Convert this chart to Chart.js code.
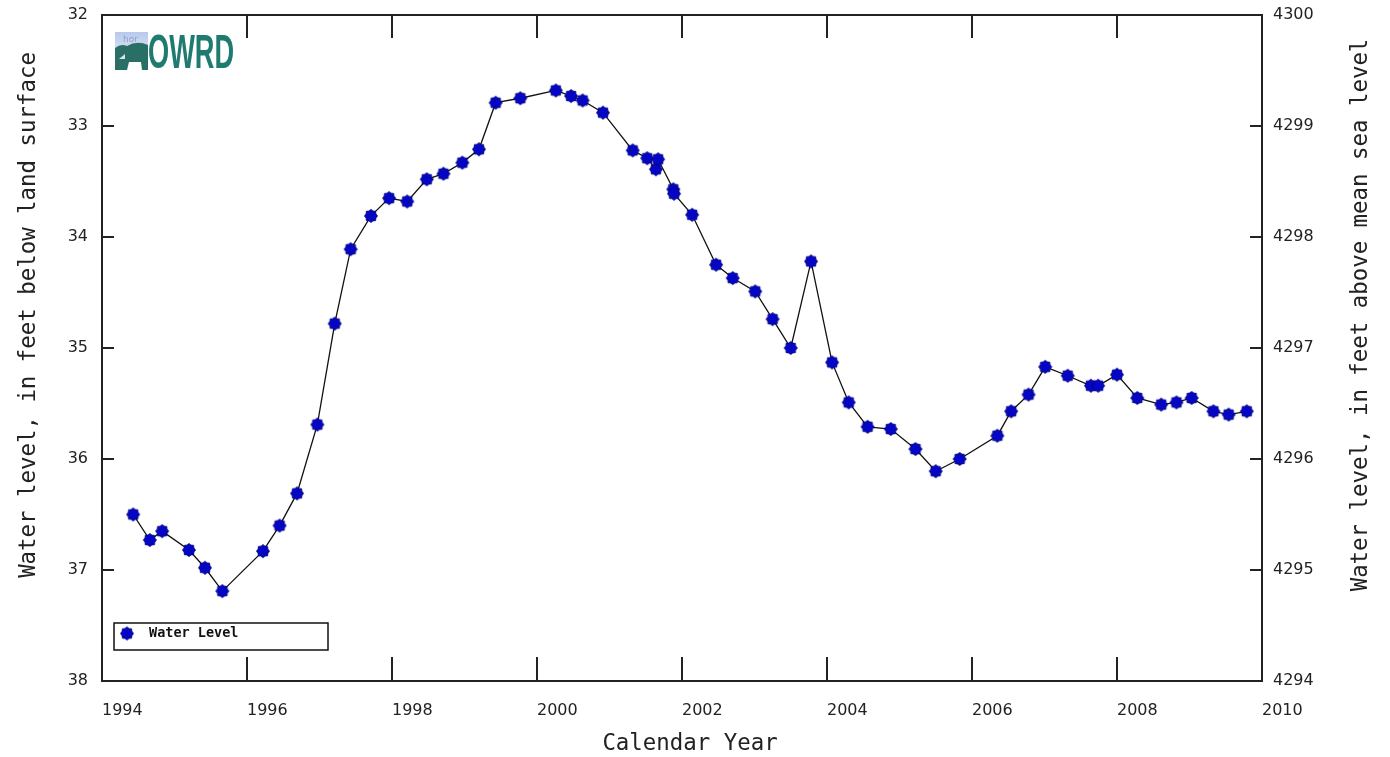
<!DOCTYPE html>
<html><head><meta charset="utf-8">
<script src="https://cdn.jsdelivr.net/npm/chart.js@4.4.0/dist/chart.umd.min.js"></script>
<style>html,body{margin:0;padding:0;background:#fff;}canvas{display:block;}</style>
</head><body>
<canvas id="c" width="1390" height="757"></canvas>
<script>
// ---- data ----
const decimalYears = [
  1994.43, 1994.66, 1994.83, 1995.20, 1995.42, 1995.66, 1996.22, 1996.45, 1996.69, 1996.97,
  1997.21, 1997.43, 1997.71, 1997.96, 1998.21, 1998.48, 1998.71, 1998.97, 1999.20, 1999.43,
  1999.77, 2000.26, 2000.47, 2000.63, 2000.91, 2001.32, 2001.52, 2001.64, 2001.67, 2001.88,
  2001.89, 2002.14, 2002.47, 2002.70, 2003.01, 2003.25, 2003.50, 2003.78, 2004.07, 2004.30,
  2004.56, 2004.88, 2005.22, 2005.50, 2005.83, 2006.35, 2006.54, 2006.78, 2007.01, 2007.32,
  2007.64, 2007.74, 2008.00, 2008.28, 2008.61, 2008.82, 2009.03, 2009.33, 2009.54, 2009.79
];
const waterLevels = [
  36.50, 36.73, 36.65, 36.82, 36.98, 37.19, 36.83, 36.60, 36.31, 35.69,
  34.78, 34.11, 33.81, 33.65, 33.68, 33.48, 33.43, 33.33, 33.21, 32.79,
  32.75, 32.68, 32.73, 32.77, 32.88, 33.22, 33.29, 33.39, 33.30, 33.57,
  33.61, 33.80, 34.25, 34.37, 34.49, 34.74, 35.00, 34.22, 35.13, 35.49,
  35.71, 35.73, 35.91, 36.11, 36.00, 35.79, 35.57, 35.42, 35.17, 35.25,
  35.34, 35.34, 35.24, 35.45, 35.51, 35.49, 35.45, 35.57, 35.60, 35.57
];
const yearTicks = [1994, 1996, 1998, 2000, 2002, 2004, 2006, 2008, 2010];
const depthTicks = [32, 33, 34, 35, 36, 37, 38];
const elevationTicks = [4294, 4295, 4296, 4297, 4298, 4299, 4300];
const seriesLabel = 'Water Level';
const xTitle = 'Calendar Year';
const leftTitle = 'Water level, in feet below land surface';
const rightTitle = 'Water level, in feet above mean sea level';
const logoText = 'OWRD';

// ---- marker ----
function makeStar(r1, r2, n, fill, stroke) {
  const s = 16;
  const c = document.createElement('canvas'); c.width = s; c.height = s;
  const g = c.getContext('2d'); g.translate(s / 2, s / 2); g.beginPath();
  for (let i = 0; i < 2 * n; i++) {
    const r = i % 2 ? r2 : r1; const a = Math.PI * i / n - Math.PI / 2;
    g.lineTo(r * Math.cos(a), r * Math.sin(a));
  }
  g.closePath(); g.fillStyle = fill; g.fill();
  g.strokeStyle = stroke; g.lineWidth = 0.8; g.stroke();
  return c;
}
const star = makeStar(6.6, 5.3, 8, '#0505c4', '#000078');

const TICK_FONT = { family: '"DejaVu Sans", Verdana, sans-serif', size: 16 };
const INK = '#222';

const decorations = {
  id: 'decorations',
  afterDraw(chart) {
    const { ctx, chartArea: a, scales } = chart;
    ctx.save();
    ctx.strokeStyle = INK; ctx.lineWidth = 2;
    const ln = (x1, y1, x2, y2) => { ctx.beginPath(); ctx.moveTo(x1, y1); ctx.lineTo(x2, y2); ctx.stroke(); };
    // inward tick marks
    scales.x.ticks.forEach(t => {
      const px = Math.round(scales.x.getPixelForValue(t.value));
      ln(px, a.bottom, px, a.bottom - 24);
      ln(px, a.top, px, a.top + 23);
    });
    scales.y.ticks.forEach(t => {
      const py = Math.round(scales.y.getPixelForValue(t.value));
      ln(a.left, py, a.left + 12, py);
    });
    scales.y2.ticks.forEach(t => {
      const py = Math.round(scales.y2.getPixelForValue(t.value));
      ln(a.right, py, a.right - 12, py);
    });
    // frame
    ctx.strokeRect(a.left, a.top, a.right - a.left, a.bottom - a.top);

    // axis titles
    ctx.fillStyle = INK;
    ctx.font = '22.4px "DejaVu Sans Mono", monospace';
    ctx.textAlign = 'center'; ctx.textBaseline = 'alphabetic';
    ctx.fillText(xTitle, 690, 750);
    ctx.save(); ctx.translate(35, 315); ctx.rotate(-Math.PI / 2); ctx.fillText(leftTitle, 0, 0); ctx.restore();
    ctx.save(); ctx.translate(1367, 315); ctx.rotate(-Math.PI / 2); ctx.fillText(rightTitle, 0, 0); ctx.restore();

    // legend
    const lx = a.left + 12, ly = a.bottom - 58;
    ctx.lineWidth = 1.5; ctx.strokeStyle = '#111';
    ctx.strokeRect(lx, ly, 214, 27);
    ctx.drawImage(star, lx + 13 - star.width / 2, ly + 10.5 - star.height / 2);
    ctx.font = 'bold 13.5px "DejaVu Sans Mono", monospace';
    ctx.textAlign = 'left'; ctx.textBaseline = 'middle'; ctx.fillStyle = '#111';
    ctx.fillText(seriesLabel, lx + 35, ly + 10.5);

    // logo
    const ox = a.left + 13, oy = a.top + 17;
    const grad = ctx.createLinearGradient(0, oy, 0, oy + 20);
    grad.addColorStop(0, '#b9c9ec'); grad.addColorStop(1, '#d6e2f4');
    ctx.fillStyle = grad; ctx.fillRect(ox, oy, 33, 22);
    ctx.fillStyle = '#8fa0c8'; ctx.font = '9px "DejaVu Sans"'; ctx.textBaseline = 'top';
    ctx.fillText('hor', ox + 8, oy + 3);
    ctx.fillStyle = '#2a6f66';
    ctx.beginPath();
    ctx.moveTo(ox, oy + 38); ctx.lineTo(ox, oy + 16);
    ctx.quadraticCurveTo(ox + 6, oy + 11, ox + 12, oy + 14);
    ctx.quadraticCurveTo(ox + 22, oy + 8, ox + 33, oy + 13);
    ctx.lineTo(ox + 33, oy + 38); ctx.lineTo(ox + 27, oy + 38); ctx.lineTo(ox + 26, oy + 30);
    ctx.lineTo(ox + 14, oy + 30); ctx.lineTo(ox + 12, oy + 38); ctx.closePath(); ctx.fill();
    ctx.fillStyle = '#d6e2f4';
    ctx.beginPath(); ctx.moveTo(ox + 4, oy + 27); ctx.lineTo(ox + 10, oy + 22); ctx.lineTo(ox + 10, oy + 27); ctx.closePath(); ctx.fill();
    ctx.font = 'bold 49px "Liberation Sans", Arial, sans-serif';
    ctx.textBaseline = 'alphabetic'; ctx.textAlign = 'left';
    const w = ctx.measureText(logoText).width;
    ctx.save(); ctx.translate(ox + 33, oy + 36); ctx.scale(86 / w, 1);
    ctx.fillStyle = '#1f7a70'; ctx.fillText(logoText, 0, 0); ctx.restore();
    ctx.restore();
  }
};

const points = decimalYears.map((x, i) => ({ x, y: waterLevels[i] }));
const noPad = s => { s.paddingTop = 0; s.paddingBottom = 0; s.paddingLeft = 0; s.paddingRight = 0; };

new Chart(document.getElementById('c'), {
  type: 'line',
  data: {
    datasets: [{
      label: seriesLabel,
      data: points,
      yAxisID: 'y',
      borderColor: '#111',
      borderWidth: 1.3,
      pointStyle: star,
      pointRadius: 6,
      pointHoverRadius: 6,
      fill: false,
      tension: 0
    }]
  },
  options: {
    responsive: false,
    animation: false,
    events: [],
    layout: { padding: { top: 15, left: 0, right: 0, bottom: 0 } },
    plugins: { legend: { display: false }, tooltip: { enabled: false }, title: { display: false } },
    scales: {
      x: {
        type: 'linear', min: 1994, max: 2010, offset: false,
        grid: { display: false, drawTicks: false },
        border: { display: false },
        afterBuildTicks: s => { s.ticks = yearTicks.map(v => ({ value: v })); },
        afterFit: s => { s.height = 76; noPad(s); },
        ticks: { align: 'start', padding: 20, autoSkip: false, maxRotation: 0, color: INK, font: TICK_FONT, callback: v => String(v) }
      },
      y: {
        type: 'linear', position: 'left', reverse: true, min: 32, max: 38,
        grid: { display: false, drawTicks: false },
        border: { display: false },
        afterBuildTicks: s => { s.ticks = depthTicks.map(v => ({ value: v })); },
        afterFit: s => { s.width = 102; noPad(s); },
        ticks: { padding: 14, color: INK, font: TICK_FONT, callback: v => String(v) }
      },
      y2: {
        type: 'linear', position: 'right', min: 4294, max: 4300,
        grid: { display: false, drawTicks: false },
        border: { display: false },
        afterBuildTicks: s => { s.ticks = elevationTicks.map(v => ({ value: v })); },
        afterFit: s => { s.width = 128; noPad(s); },
        ticks: { padding: 11, color: INK, font: TICK_FONT, callback: v => String(v) }
      }
    }
  },
  plugins: [decorations]
});
</script>
</body></html>
